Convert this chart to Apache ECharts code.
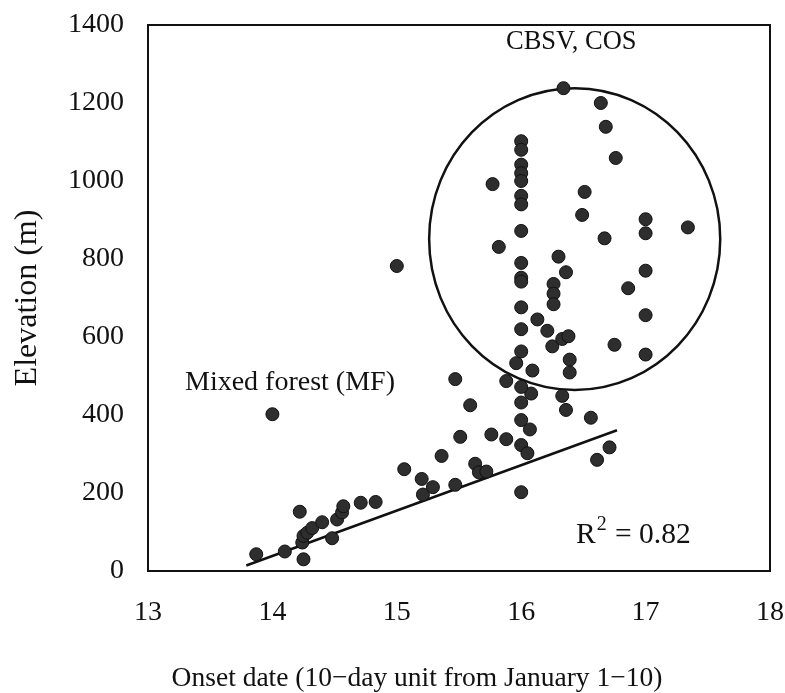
<!DOCTYPE html>
<html>
<head>
<meta charset="utf-8">
<script src="https://cdn.jsdelivr.net/npm/echarts@6/dist/echarts.min.js"></script>
<style>
  html, body { margin: 0; padding: 0; background: #fff; }
  #chart { width: 785px; height: 693px; }
</style>
</head>
<body>
<div id="chart"></div>
<script>
// Onset date (10-day unit) and elevation (m) of each site
const siteOnset = [
  13.87, 14.10, 14.22, 14.25, 14.24, 14.25, 14.28, 14.32, 14.40, 14.48,
  14.52, 14.56, 14.57, 14.71, 14.83, 14.00, 15.00, 15.06, 15.20, 15.21,
  15.29, 15.36, 15.47, 15.47, 15.51, 15.59, 15.63, 15.66, 15.72, 15.76,
  15.88, 15.88, 15.96, 16.00, 16.00, 16.05, 16.07, 16.00, 16.00, 16.08,
  16.00, 16.09, 16.00, 16.33, 16.36, 16.56, 16.71, 16.61, 16.25, 16.39,
  16.39, 16.75, 17.00,
  16.34, 16.64, 16.68, 16.76, 15.77, 16.51, 16.49, 17.00, 17.00, 17.34,
  16.67, 15.82, 16.30, 16.36, 17.00, 16.26, 16.26, 16.26, 16.86, 17.00,
  16.13, 16.21, 16.33, 16.38,
  16.00, 16.00, 16.00, 16.00, 16.00, 16.00, 16.00, 16.00, 16.00, 16.00,
  16.00, 16.00, 16.00
];
const siteElevation = [
  43, 50, 152, 30, 73, 90, 98, 110, 125, 84,
  132, 150, 166, 175, 177, 402, 782, 261, 236, 196,
  215, 295, 221, 492, 344, 425, 275, 253, 255, 350,
  338, 487, 533, 202, 323, 302, 363, 387, 432, 455,
  472, 514, 563, 449, 413, 393, 317, 285, 576, 509,
  542, 580, 555,
  1238, 1200, 1139, 1059, 992, 972, 913, 902, 866, 881,
  853, 831, 806, 766, 770, 736, 711, 684, 725, 656,
  645, 616, 595, 602,
  1102, 1080, 1042, 1020, 1000, 962, 940, 872, 790, 752,
  742, 676, 620
];

// Fitted regression line end points
const trendOnset = [13.79, 16.77];
const trendElevation = [14, 361];

// Ellipse around the CBSV/COS cluster: centre x, centre y, radius x, radius y
const clusterEllipse = [16.43, 851, 1.17, 387];

// Axis ticks
const xTicks = [13, 14, 15, 16, 17, 18];
const yTicks = [0, 200, 400, 600, 800, 1000, 1200, 1400];

const serif = '"Liberation Serif", "Times New Roman", serif';
const ink = '#111';

const points = siteOnset.map((x, i) => [x, siteElevation[i]]);
const trend = trendOnset.map((x, i) => [x, trendElevation[i]]);

const chart = echarts.init(document.getElementById('chart'), null, { renderer: 'canvas' });

chart.setOption({
  backgroundColor: '#fff',
  animation: false,
  grid: {
    left: 148, right: 15, top: 25, bottom: 122,
    outerBoundsMode: 'none',
    show: true, borderColor: ink, borderWidth: 2, backgroundColor: 'transparent'
  },
  xAxis: {
    type: 'value',
    min: xTicks[0], max: xTicks[xTicks.length - 1], interval: 1,
    name: 'Onset date (10\u2212day unit from January 1\u221210)',
    nameLocation: 'middle', nameGap: 94,
    nameTextStyle: { fontFamily: serif, fontSize: 27.5, color: ink, padding: [0, 84, 0, 0] },
    axisLine: { show: true, onZero: false, lineStyle: { color: ink, width: 2 } },
    axisTick: { show: false },
    splitLine: { show: false },
    axisLabel: { fontFamily: serif, fontSize: 28, color: ink, margin: 28, formatter: v => String(v) }
  },
  yAxis: {
    type: 'value',
    min: yTicks[0], max: yTicks[yTicks.length - 1], interval: 200,
    name: 'Elevation (m)',
    nameLocation: 'middle', nameGap: 104,
    nameTextStyle: { fontFamily: serif, fontSize: 32, color: ink },
    axisLine: { show: true, onZero: false, lineStyle: { color: ink, width: 2 } },
    axisTick: { show: false },
    splitLine: { show: false },
    axisLabel: { fontFamily: serif, fontSize: 28, color: ink, margin: 24, formatter: v => String(v) }
  },
  series: [
    {
      type: 'custom',
      silent: true,
      clip: false,
      z: 1,
      data: [clusterEllipse],
      renderItem: function (params, api) {
        const c = api.coord([api.value(0), api.value(1)]);
        const s = api.size([api.value(2), api.value(3)]);
        return {
          type: 'ellipse',
          shape: { cx: c[0], cy: c[1], rx: s[0], ry: s[1] },
          style: { fill: null, stroke: ink, lineWidth: 2.5 }
        };
      }
    },
    {
      type: 'line',
      data: trend,
      symbol: 'none',
      silent: true,
      z: 2,
      lineStyle: { color: ink, width: 2.5 }
    },
    {
      type: 'scatter',
      data: points,
      symbol: 'circle',
      symbolSize: 13,
      z: 3,
      itemStyle: { color: '#2e2e2e', borderColor: '#111', borderWidth: 1, opacity: 1 }
    }
  ],
  graphic: [
    {
      type: 'text', left: 506, top: 29,
      style: { text: 'CBSV, COS', font: '26.5px ' + serif, fill: ink }
    },
    {
      type: 'text', left: 185, top: 369,
      style: { text: 'Mixed forest (MF)', font: '28px ' + serif, fill: ink }
    },
    {
      type: 'text', left: 576, top: 515,
      style: {
        text: '{r|R}{sup|2}{r| = 0.82}',
        fill: ink,
        rich: {
          r: { fontFamily: serif, fontSize: 29.5, fill: ink, verticalAlign: 'bottom' },
          sup: { fontFamily: serif, fontSize: 20, fill: ink, verticalAlign: 'bottom', padding: [0, 1, 15, 1] }
        }
      }
    }
  ]
});
</script>
</body>
</html>
